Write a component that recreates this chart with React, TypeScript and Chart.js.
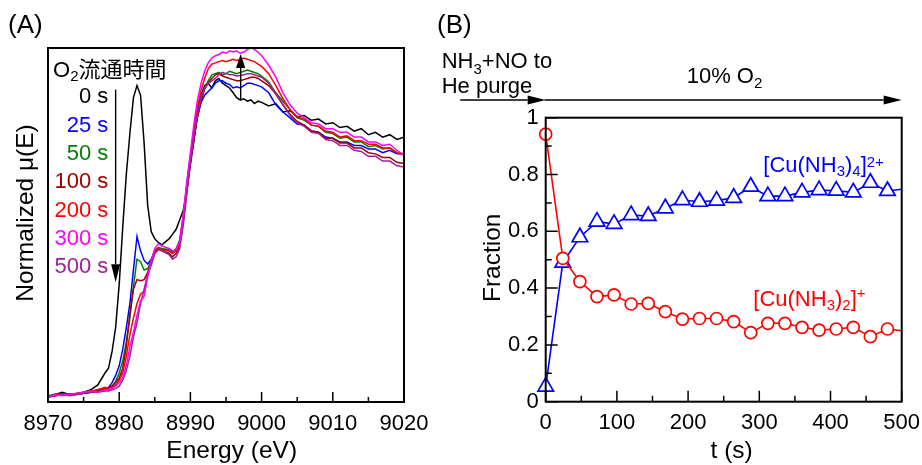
import React, { useEffect, useRef } from "react";
import { Chart, registerables } from "chart.js";

Chart.register(...registerables);

const FONT = '"Liberation Sans", Arial, "Noto Sans CJK JP", sans-serif';

// ---------------- Panel (A) : Cu K-edge XANES ----------------
const ENERGY = [
  8970, 8971, 8972, 8973, 8974, 8975, 8976, 8977,
  8978, 8978.5, 8979, 8979.5, 8980, 8980.5, 8981, 8981.5,
  8982, 8982.5, 8983, 8983.5, 8984, 8984.5, 8985, 8985.5,
  8986, 8987, 8987.5, 8988, 8988.5, 8989, 8989.5, 8990,
  8990.5, 8991, 8991.5, 8992, 8992.5, 8993, 8993.5, 8994,
  8994.5, 8995, 8995.5, 8996, 8996.5, 8997, 8997.5, 8998,
  8998.5, 8999, 8999.5, 9000, 9001, 9002, 9003, 9004,
  9005, 9006, 9007, 9008, 9009, 9010, 9011, 9012,
  9013, 9014, 9015, 9016, 9017, 9018, 9019, 9020,
];

const MU_0S = [
  0.0, 0.01, 0.02, 0.01, 0.015, 0.02, 0.03, 0.05,
  0.1, 0.12, 0.19, 0.29, 0.47, 0.71, 0.93, 1.1,
  1.25, 1.3, 1.26, 1.06, 0.8, 0.69, 0.66, 0.645,
  0.635, 0.66, 0.68, 0.7, 0.74, 0.78, 0.86, 0.97,
  1.07, 1.19, 1.26, 1.3, 1.31, 1.29, 1.32, 1.33,
  1.31, 1.3, 1.29, 1.27, 1.25, 1.24, 1.245, 1.235,
  1.24, 1.225, 1.235, 1.23, 1.215, 1.225, 1.19, 1.195,
  1.17, 1.175, 1.155, 1.16, 1.14, 1.145, 1.125, 1.13,
  1.11, 1.12, 1.095, 1.105, 1.085, 1.095, 1.075, 1.085,
];
const MU_25S = [
  0.0, 0.005, 0.01, 0.008, 0.01, 0.015, 0.02, 0.025,
  0.035, 0.04, 0.06, 0.09, 0.13, 0.2, 0.29, 0.39,
  0.53, 0.67, 0.61, 0.57, 0.555, 0.575, 0.61, 0.62,
  0.615, 0.61, 0.6, 0.615, 0.64, 0.74, 0.87, 0.99,
  1.08, 1.17, 1.23, 1.26, 1.275, 1.29, 1.31, 1.32,
  1.32, 1.31, 1.305, 1.29, 1.295, 1.29, 1.3, 1.31,
  1.31, 1.305, 1.3, 1.295, 1.27, 1.22, 1.19, 1.165,
  1.14, 1.135, 1.11, 1.105, 1.085, 1.08, 1.065, 1.065,
  1.05, 1.05, 1.035, 1.035, 1.02, 1.03, 1.015, 1.015,
];
const MU_50S = [
  0.005, 0.012, 0.01, 0.012, 0.01, 0.015, 0.02, 0.025,
  0.03, 0.035, 0.045, 0.065, 0.1, 0.15, 0.23, 0.33,
  0.46, 0.575, 0.565, 0.53, 0.535, 0.57, 0.61, 0.625,
  0.62, 0.615, 0.605, 0.62, 0.655, 0.75, 0.88, 1.0,
  1.09, 1.18, 1.24, 1.29, 1.32, 1.345, 1.35, 1.355,
  1.345, 1.35, 1.36, 1.355, 1.35, 1.355, 1.36, 1.365,
  1.36, 1.355, 1.35, 1.34, 1.315, 1.27, 1.235, 1.2,
  1.165, 1.155, 1.135, 1.13, 1.105, 1.1, 1.08, 1.085,
  1.065, 1.065, 1.045, 1.05, 1.035, 1.04, 1.02, 1.015,
];
const MU_100S = [
  0.0, 0.008, 0.012, 0.01, 0.012, 0.015, 0.02, 0.03,
  0.035, 0.04, 0.045, 0.06, 0.08, 0.12, 0.21, 0.35,
  0.45, 0.49, 0.485, 0.49, 0.52, 0.565, 0.61, 0.62,
  0.61, 0.6, 0.585, 0.6, 0.63, 0.73, 0.86, 0.99,
  1.08, 1.17, 1.24, 1.285, 1.31, 1.33, 1.345, 1.35,
  1.34, 1.335, 1.33, 1.325, 1.32, 1.32, 1.325, 1.33,
  1.335, 1.335, 1.33, 1.32, 1.3, 1.265, 1.22, 1.18,
  1.15, 1.135, 1.11, 1.105, 1.08, 1.08, 1.06, 1.06,
  1.04, 1.04, 1.02, 1.015, 1.0, 1.0, 0.98, 0.975,
];
const MU_200S = [
  0.0, 0.005, 0.01, 0.012, 0.015, 0.02, 0.025, 0.03,
  0.04, 0.035, 0.04, 0.05, 0.07, 0.1, 0.17, 0.26,
  0.33, 0.39, 0.43, 0.44, 0.51, 0.56, 0.6, 0.62,
  0.615, 0.61, 0.6, 0.61, 0.65, 0.76, 0.89, 1.01,
  1.12, 1.21, 1.28, 1.33, 1.37, 1.39, 1.395, 1.4,
  1.405, 1.4, 1.405, 1.41, 1.405, 1.41, 1.415, 1.41,
  1.405, 1.4, 1.39, 1.38, 1.35, 1.3, 1.245, 1.2,
  1.17, 1.16, 1.135, 1.13, 1.11, 1.105, 1.085, 1.09,
  1.07, 1.07, 1.055, 1.055, 1.04, 1.04, 1.02, 1.01,
];
const MU_300S = [
  0.0, 0.01, 0.005, 0.01, 0.015, 0.02, 0.025, 0.02,
  0.03, 0.03, 0.035, 0.045, 0.06, 0.08, 0.13, 0.21,
  0.27, 0.34, 0.4, 0.42, 0.5, 0.57, 0.62, 0.64,
  0.63, 0.62, 0.61, 0.615, 0.65, 0.76, 0.9, 1.02,
  1.14, 1.24, 1.31, 1.36, 1.395, 1.415, 1.425, 1.43,
  1.44, 1.435, 1.445, 1.44, 1.445, 1.435, 1.44, 1.45,
  1.46, 1.45, 1.44, 1.425, 1.385, 1.335, 1.27, 1.22,
  1.185, 1.165, 1.145, 1.14, 1.12, 1.12, 1.105, 1.105,
  1.085, 1.085, 1.065, 1.065, 1.05, 1.055, 1.03, 1.01,
];
const MU_500S = [
  0.0, 0.005, 0.01, 0.005, 0.01, 0.015, 0.02, 0.02,
  0.025, 0.025, 0.03, 0.035, 0.045, 0.07, 0.11, 0.17,
  0.25, 0.31, 0.39, 0.45, 0.51, 0.55, 0.6, 0.615,
  0.61, 0.595, 0.575, 0.585, 0.62, 0.72, 0.85, 0.98,
  1.09, 1.18, 1.25, 1.29, 1.31, 1.32, 1.33, 1.345,
  1.355, 1.35, 1.345, 1.345, 1.34, 1.342, 1.345, 1.35,
  1.35, 1.345, 1.34, 1.335, 1.31, 1.265, 1.22, 1.175,
  1.145, 1.13, 1.105, 1.1, 1.075, 1.07, 1.05, 1.05,
  1.03, 1.025, 1.005, 1.005, 0.985, 0.985, 0.965, 0.96,
];

const XANES_SERIES = [MU_0S, MU_25S, MU_50S, MU_100S, MU_200S, MU_300S, MU_500S];
const SERIES_LABELS = ["0 s", "25 s", "50 s", "100 s", "200 s", "300 s", "500 s"];
const SERIES_COLORS = ["#000000", "#0000ff", "#008000", "#a00000", "#ff0000", "#ff00ff", "#a0209a"];
const SERIES_DRAW_ORDER = [6, 5, 4, 3, 2, 0, 1];

const A_X_MAJOR = [8970, 8980, 8990, 9000, 9010, 9020];
const A_X_MINOR = [8975, 8985, 8995, 9005, 9015];
const A_Y_MIN = -0.021;
const A_Y_MAX = 1.457;
// annotation arrows in data units: [energy, from, to]
const A_ARROW_DOWN = [8979.5, 1.283, 0.479];
const A_ARROW_UP = [8997.06, 1.2375, 1.432];

// ---------------- Panel (B) : fractions ----------------
const TIME_S = [0, 24, 48, 72, 96, 120, 144, 168, 192, 216, 240, 264, 288, 312, 336, 360, 384, 408, 432, 456, 480, 500];
const FRAC_CU_NH3_4 = [0.053, 0.49, 0.579, 0.634, 0.626, 0.657, 0.654, 0.681, 0.71, 0.704, 0.708, 0.718, 0.757, 0.724, 0.724, 0.737, 0.745, 0.743, 0.737, 0.771, 0.742, 0.748];
const FRAC_CU_NH3_2 = [0.942, 0.505, 0.423, 0.37, 0.376, 0.344, 0.346, 0.317, 0.291, 0.293, 0.293, 0.282, 0.243, 0.276, 0.276, 0.262, 0.252, 0.256, 0.262, 0.229, 0.256, 0.25];
const MARKED_UNTIL = 480;

const B_X_MAJOR = [0, 100, 200, 300, 400, 500];
const B_X_MINOR = [50, 150, 250, 350, 450];
const B_Y_MAJOR = [0, 0.2, 0.4, 0.6, 0.8, 1];
const B_Y_MINOR = [0.1, 0.3, 0.5, 0.7, 0.9];
const B_Y_LABELS = ["0", "0.2", "0.4", "0.6", "0.8", "1"];
// process arrow (time units): start, end of purge, end
const B_PHASES = [-120, 0, 500];

function drawArrow(ctx: CanvasRenderingContext2D, x1: number, y1: number, x2: number, y2: number, head: number, half: number) {
  const ang = Math.atan2(y2 - y1, x2 - x1);
  const bx = x2 - head * Math.cos(ang);
  const by = y2 - head * Math.sin(ang);
  ctx.beginPath();
  ctx.moveTo(x1, y1);
  ctx.lineTo(bx, by);
  ctx.stroke();
  ctx.beginPath();
  ctx.moveTo(x2, y2);
  ctx.lineTo(bx + half * Math.sin(ang), by - half * Math.cos(ang));
  ctx.lineTo(bx - half * Math.sin(ang), by + half * Math.cos(ang));
  ctx.closePath();
  ctx.fill();
}

function framePlugin(id: string, xMajor: number[], xMinor: number[], yMajor: number[], yMinor: number[], xLen: number[], yLen: number[]) {
  return {
    id,
    afterDatasetsDraw(chart: any) {
      const { ctx, chartArea, scales } = chart;
      const { left, right, top, bottom } = chartArea;
      ctx.save();
      ctx.strokeStyle = "#000";
      ctx.lineWidth = 1.5;
      ctx.beginPath();
      xMajor.forEach((v) => {
        const p = scales.x.getPixelForValue(v);
        ctx.moveTo(p, bottom);
        ctx.lineTo(p, bottom - xLen[0]);
      });
      xMinor.forEach((v) => {
        const p = scales.x.getPixelForValue(v);
        ctx.moveTo(p, bottom);
        ctx.lineTo(p, bottom - xLen[1]);
      });
      yMajor.forEach((v) => {
        const p = scales.y.getPixelForValue(v);
        ctx.moveTo(left, p);
        ctx.lineTo(left + yLen[0], p);
      });
      yMinor.forEach((v) => {
        const p = scales.y.getPixelForValue(v);
        ctx.moveTo(left, p);
        ctx.lineTo(left + yLen[1], p);
      });
      ctx.stroke();
      ctx.lineWidth = 2;
      ctx.strokeRect(left, top, right - left, bottom - top);
      ctx.restore();
    },
  };
}

const arrowsA = {
  id: "arrowsA",
  afterDatasetsDraw(chart: any) {
    const { ctx, scales } = chart;
    ctx.save();
    ctx.strokeStyle = "#000";
    ctx.fillStyle = "#000";
    ctx.lineWidth = 1.4;
    const dx = scales.x.getPixelForValue(A_ARROW_DOWN[0]);
    drawArrow(ctx, dx, scales.y.getPixelForValue(A_ARROW_DOWN[1]), dx, scales.y.getPixelForValue(A_ARROW_DOWN[2]), 18, 4.5);
    const ux = scales.x.getPixelForValue(A_ARROW_UP[0]);
    drawArrow(ctx, ux, scales.y.getPixelForValue(A_ARROW_UP[1]), ux, scales.y.getPixelForValue(A_ARROW_UP[2]), 14, 4.6);
    ctx.restore();
  },
};

const arrowsB = {
  id: "arrowsB",
  afterDraw(chart: any) {
    const { ctx, scales, chartArea } = chart;
    const y = chartArea.top - 17.7;
    const x0 = scales.x.getPixelForValue(B_PHASES[0]);
    const x1 = scales.x.getPixelForValue(B_PHASES[1]);
    const x2 = scales.x.getPixelForValue(B_PHASES[2]);
    ctx.save();
    ctx.strokeStyle = "#000";
    ctx.fillStyle = "#000";
    ctx.lineWidth = 1.5;
    drawArrow(ctx, x0, y, x1, y, 18, 4.5);
    drawArrow(ctx, x1 - 1, y, x2, y, 18, 4.5);
    ctx.restore();
  },
};

const tickFont = { family: FONT, size: 22 };

export default function App() {
  const aRef = useRef<HTMLCanvasElement>(null);
  const bRef = useRef<HTMLCanvasElement>(null);

  useEffect(() => {
    const chartA = new Chart(aRef.current as HTMLCanvasElement, {
      type: "line",
      data: {
        datasets: XANES_SERIES.map((ys, i) => ({
          label: SERIES_LABELS[i],
          data: ENERGY.map((e, j) => ({ x: e, y: ys[j] })),
          borderColor: SERIES_COLORS[i],
          borderWidth: 1.5,
          pointRadius: 0,
          tension: 0,
          order: SERIES_DRAW_ORDER[i],
        })),
      },
      options: {
        responsive: false,
        animation: false,
        devicePixelRatio: 1,
        layout: { padding: { top: 48, right: 66, left: 0, bottom: 0 } },
        plugins: { legend: { display: false }, tooltip: { enabled: false } },
        scales: {
          x: {
            type: "linear",
            min: 8970,
            max: 9020,
            afterBuildTicks: (s: any) => {
              s.ticks = A_X_MAJOR.map((v) => ({ value: v }));
            },
            ticks: { font: tickFont, color: "#000", padding: 9, maxRotation: 0, autoSkip: false, callback: (v: any) => String(v) },
            grid: { display: false, drawTicks: false },
            border: { display: false },
            afterFit: (s: any) => {
              s.height = 63;
            },
          },
          y: {
            type: "linear",
            min: A_Y_MIN,
            max: A_Y_MAX,
            ticks: { display: false },
            grid: { display: false, drawTicks: false },
            border: { display: false },
            afterFit: (s: any) => {
              s.width = 48;
            },
          },
        },
      } as any,
      plugins: [framePlugin("frameA", A_X_MAJOR, A_X_MINOR, [], [], [10, 5], [0, 0]), arrowsA],
    });

    const chartB = new Chart(bRef.current as HTMLCanvasElement, {
      type: "line",
      data: {
        datasets: [
          {
            label: "[Cu(NH3)2]+",
            data: TIME_S.map((t, i) => ({ x: t, y: FRAC_CU_NH3_2[i] })),
            borderColor: "#ff0000",
            backgroundColor: "#ffffff",
            borderWidth: 1.6,
            pointStyle: "circle",
            pointRadius: (c: any) => (TIME_S[c.dataIndex] > MARKED_UNTIL ? 0 : 6),
            pointBorderWidth: 1.7,
            pointBorderColor: "#ff0000",
            pointBackgroundColor: "#ffffff",
            tension: 0,
            clip: false,
          },
          {
            label: "[Cu(NH3)4]2+",
            data: TIME_S.map((t, i) => ({ x: t, y: FRAC_CU_NH3_4[i] })),
            borderColor: "#0000ff",
            backgroundColor: "#ffffff",
            borderWidth: 1.6,
            pointStyle: "triangle",
            pointRadius: (c: any) => (TIME_S[c.dataIndex] > MARKED_UNTIL ? 0 : 9),
            pointBorderWidth: 1.7,
            pointBorderColor: "#0000ff",
            pointBackgroundColor: "#ffffff",
            tension: 0,
            clip: false,
          },
        ],
      },
      options: {
        responsive: false,
        animation: false,
        devicePixelRatio: 1,
        layout: { padding: { top: 117.7, right: 88.3, left: 0, bottom: 0 } },
        plugins: { legend: { display: false }, tooltip: { enabled: false } },
        scales: {
          x: {
            type: "linear",
            min: 0,
            max: 500,
            afterBuildTicks: (s: any) => {
              s.ticks = B_X_MAJOR.map((v) => ({ value: v }));
            },
            ticks: { font: tickFont, color: "#000", padding: 8, maxRotation: 0, autoSkip: false, callback: (v: any) => String(v) },
            grid: { display: false, drawTicks: false },
            border: { display: false },
            afterFit: (s: any) => {
              s.height = 63.3;
            },
          },
          y: {
            type: "linear",
            min: 0,
            max: 1,
            afterBuildTicks: (s: any) => {
              s.ticks = B_Y_MAJOR.map((v) => ({ value: v }));
            },
            ticks: { font: tickFont, color: "#000", padding: 7, autoSkip: false, callback: (_v: any, i: number) => B_Y_LABELS[i] },
            grid: { display: false, drawTicks: false },
            border: { display: false },
            afterFit: (s: any) => {
              s.width = 115.7;
            },
          },
        },
      } as any,
      plugins: [framePlugin("frameB", B_X_MAJOR, B_X_MINOR, B_Y_MAJOR, B_Y_MINOR, [11, 6], [12, 6]), arrowsB],
    });

    return () => {
      chartA.destroy();
      chartB.destroy();
    };
  }, []);

  const legendBaselines = [103.3, 131.6, 160, 188.3, 216.6, 245, 273.3];

  return (
    <div style={{ position: "absolute", left: 0, top: 0, width: 922, height: 465, background: "#ffffff", overflow: "hidden" }}>
      <canvas ref={aRef} width={470} height={465} style={{ position: "absolute", left: 0, top: 0 }} />
      <canvas ref={bRef} width={560} height={465} style={{ position: "absolute", left: 430, top: 0 }} />
      <svg width={922} height={465} style={{ position: "absolute", left: 0, top: 0, pointerEvents: "none" }} fontFamily={FONT} fill="#000">
        <text x={8} y={33} fontSize={26}>(A)</text>
        <text x={437} y={33} fontSize={26}>(B)</text>

        <text transform="translate(33.3,213) rotate(-90)" textAnchor="middle" fontSize={24.5}>Normalized μ(E)</text>
        <text x={231.7} y={458.3} textAnchor="middle" fontSize={24.5}>Energy (eV)</text>

        <text x={53} y={76.7} fontSize={22}>
          O<tspan fontSize={15} dy={4}>2</tspan>
          <tspan dy={-4}>流通時間</tspan>
        </text>
        {SERIES_LABELS.map((lab, i) => (
          <text key={lab} x={108.3} y={legendBaselines[i]} textAnchor="end" fontSize={22} fill={SERIES_COLORS[i]}>
            {lab}
          </text>
        ))}

        <text transform="translate(500,257.8) rotate(-90)" textAnchor="middle" fontSize={24.5}>Fraction</text>
        <text x={731.7} y={458.3} textAnchor="middle" fontSize={24.5}>t (s)</text>

        <text x={441.7} y={68.3} fontSize={22}>
          NH<tspan fontSize={15} dy={6}>3</tspan>
          <tspan dy={-6}>+NO to</tspan>
        </text>
        <text x={441.7} y={92.7} fontSize={22}>He purge</text>
        <text x={686.7} y={83.3} fontSize={22}>
          10% O<tspan fontSize={15} dy={5}>2</tspan>
        </text>

        <text x={763.3} y={172.3} fontSize={22} fill="#0000ff">
          [Cu(NH<tspan fontSize={15} dy={4}>3</tspan>
          <tspan dy={-4}>)</tspan>
          <tspan fontSize={15} dy={4}>4</tspan>
          <tspan dy={-4}>]</tspan>
          <tspan fontSize={15} dy={-5}>2+</tspan>
        </text>
        <text x={753.3} y={306} fontSize={22} fill="#ff0000">
          [Cu(NH<tspan fontSize={15} dy={4}>3</tspan>
          <tspan dy={-4}>)</tspan>
          <tspan fontSize={15} dy={4}>2</tspan>
          <tspan dy={-4}>]</tspan>
          <tspan fontSize={15} dy={-8}>+</tspan>
        </text>
      </svg>
    </div>
  );
}
